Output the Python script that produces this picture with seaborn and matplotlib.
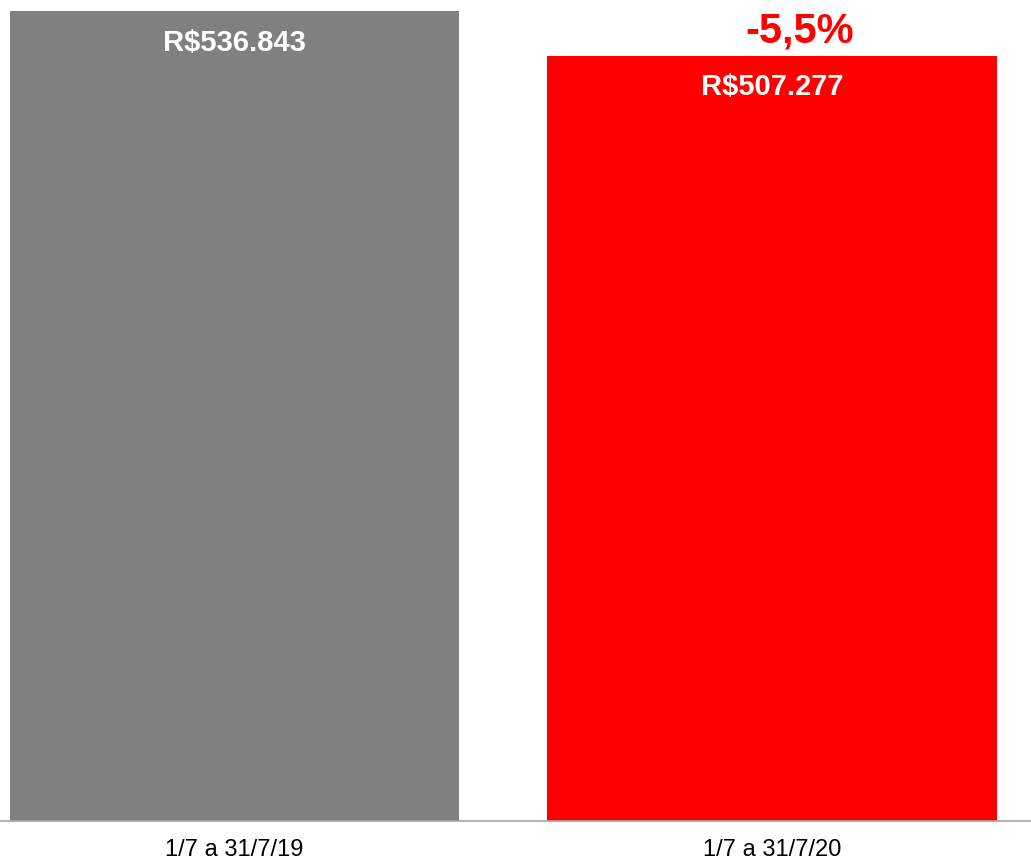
import matplotlib
matplotlib.use("Agg")
import matplotlib.pyplot as plt
import seaborn as sns
import pandas as pd

categories = ["1/7 a 31/7/19", "1/7 a 31/7/20"]
values = [536843, 507277]
value_labels = ["R$536.843", "R$507.277"]
change_label = "-5,5%"
colors = ["#808080", "#ff0000"]

sns.set_theme(style="white")
plt.rcParams["font.family"] = ["Liberation Sans", "DejaVu Sans"]

df = pd.DataFrame({"periodo": categories, "valor": values})

fig = plt.figure(figsize=(10.31, 8.59), dpi=100)
ax = fig.add_axes([0, 0.0448, 1, 0.9552])

sns.barplot(data=df, x="periodo", y="valor", hue="periodo", palette=colors,
            width=0.837, legend=False, ax=ax, saturation=1, linewidth=0)

ax.set_xlim(-0.4363, 1.4819)
ax.set_ylim(0, 544138)
ax.set_xlabel("")
ax.set_ylabel("")
ax.set_yticks([])
for s in ["top", "left", "right"]:
    ax.spines[s].set_visible(False)
ax.spines["bottom"].set_color("#a6a6a6")
ax.spines["bottom"].set_linewidth(1.2)
ax.tick_params(axis="x", length=0, pad=13, labelsize=17, labelcolor="black")

for i, (v, lab) in enumerate(zip(values, value_labels)):
    ax.annotate(lab, (i, v), xytext=(0, -39.5 * 0.72), textcoords="offset points",
                ha="center", va="baseline", color="white", fontsize=21,
                fontweight="bold")

ax.annotate(change_label, (1, values[1]), xytext=(28 * 0.72, 13 * 0.72),
            textcoords="offset points", ha="center", va="baseline",
            color="#ff0000", fontsize=30, fontweight="bold")

fig.savefig("out.png", dpi=100)
